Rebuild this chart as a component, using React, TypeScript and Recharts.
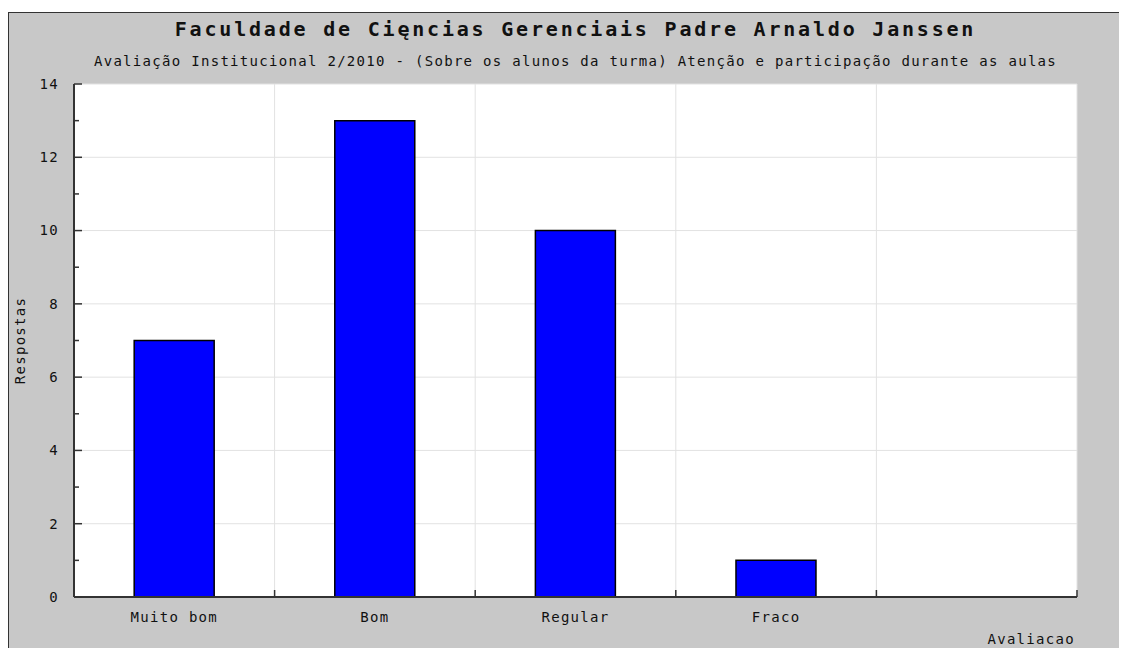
import { BarChart, Bar, XAxis, YAxis, CartesianGrid, Label } from 'recharts';

// categories along the x axis (the last band is left empty in the original)
const categories = ['Muito bom', 'Bom', 'Regular', 'Fraco', ''];
const respostas = [7, 13, 10, 1, null];
const yTicks = [0, 1, 2, 3, 4, 5, 6, 7, 8, 9, 10, 11, 12, 13, 14];
const gridY = [2, 4, 6, 8, 10, 12, 14];
const bandEdges = [1, 2, 3, 4, 5];

const data = categories.map((c, i) => ({ avaliacao: c, respostas: respostas[i], edge: i }));

const FONT = "'DejaVu Sans Mono', monospace";
const textStyle = { fontFamily: FONT, fontSize: 14, letterSpacing: 1.3 };

const YTick = (props: any) => {
  const { x, y, payload } = props;
  const major = payload.value % 2 === 0;
  return (
    <g>
      <line x1={x} x2={x + (major ? 8 : 5)} y1={y} y2={y} stroke="#333" strokeWidth={1.5} />
      {major && (
        <text x={x - 15} y={y} dy="0.35em" textAnchor="end" fill="#111" style={textStyle}>
          {payload.value}
        </text>
      )}
    </g>
  );
};

// category label at the band centre, small upward tick at the band's right edge
const CatTick = (props: any) => {
  const { x, y, payload, width, visibleTicksCount } = props;
  const half = width / visibleTicksCount / 2;
  return (
    <g>
      <line x1={x + half} x2={x + half} y1={y} y2={y - 7} stroke="#333" strokeWidth={1.5} />
      <text x={x} y={y + 15} dy="0.71em" textAnchor="middle" fill="#111" style={textStyle}>
        {payload.value}
      </text>
    </g>
  );
};

export default function App() {
  return (
    <div
      style={{
        position: 'relative',
        marginTop: 4,
        width: 1118,
        height: 635,
        background: '#c8c8c8',
        borderTop: '1px solid #333',
        borderLeft: '1px solid #333',
      }}
    >
      <div
        style={{
          position: 'absolute',
          left: 65,
          width: 1003,
          top: 4,
          lineHeight: '24px',
          textAlign: 'center',
          fontFamily: FONT,
          fontWeight: 'bold',
          fontSize: 20,
          letterSpacing: 2.8,
          color: '#111',
          whiteSpace: 'nowrap',
        }}
      >
        Faculdade de Cięncias Gerenciais Padre Arnaldo Janssen
      </div>
      <div
        style={{
          position: 'absolute',
          left: 65,
          width: 1003,
          top: 39,
          lineHeight: '18px',
          textAlign: 'center',
          ...textStyle,
          color: '#111',
          whiteSpace: 'nowrap',
        }}
      >
        Avaliação Institucional 2/2010 - (Sobre os alunos da turma) Atenção e participação durante as aulas
      </div>
      <BarChart
        width={1118}
        height={635}
        data={data}
        margin={{ top: 71, right: 50, bottom: 0, left: 0 }}
        barCategoryGap="30%"
      >
        <CartesianGrid
          xAxisId="grid"
          fill="#fff"
          stroke="#e2e2e2"
          horizontalValues={gridY}
          verticalValues={bandEdges}
        />
        <XAxis xAxisId="grid" type="number" dataKey="edge" domain={[0, 5]} ticks={[0, ...bandEdges]} hide />
        <XAxis
          xAxisId="cat"
          dataKey="avaliacao"
          height={51}
          interval={0}
          axisLine={{ stroke: '#333', strokeWidth: 2 }}
          tickLine={false}
          tickSize={0}
          tickMargin={0}
          tick={<CatTick />}
        >
          <Label
            content={(p: any) => (
              <text
                x={p.viewBox.x + p.viewBox.width - 2}
                y={p.viewBox.y + 47}
                textAnchor="end"
                fill="#111"
                style={textStyle}
              >
                Avaliacao
              </text>
            )}
          />
        </XAxis>
        <YAxis
          width={65}
          domain={[0, 14]}
          ticks={yTicks}
          interval={0}
          tickSize={0}
          tickMargin={0}
          tick={<YTick />}
          tickLine={false}
          axisLine={{ stroke: '#333', strokeWidth: 2 }}
        >
          <Label
            content={(p: any) => {
              const cx = 11;
              const cy = p.viewBox.y + p.viewBox.height / 2;
              return (
                <text
                  x={cx}
                  y={cy}
                  textAnchor="middle"
                  dy="0.35em"
                  transform={`rotate(-90 ${cx} ${cy})`}
                  fill="#111"
                  style={textStyle}
                >
                  Respostas
                </text>
              );
            }}
          />
        </YAxis>
        <Bar
          xAxisId="cat"
          dataKey="respostas"
          fill="#0000ff"
          stroke="#000"
          strokeWidth={1.5}
          isAnimationActive={false}
        />
      </BarChart>
    </div>
  );
}
